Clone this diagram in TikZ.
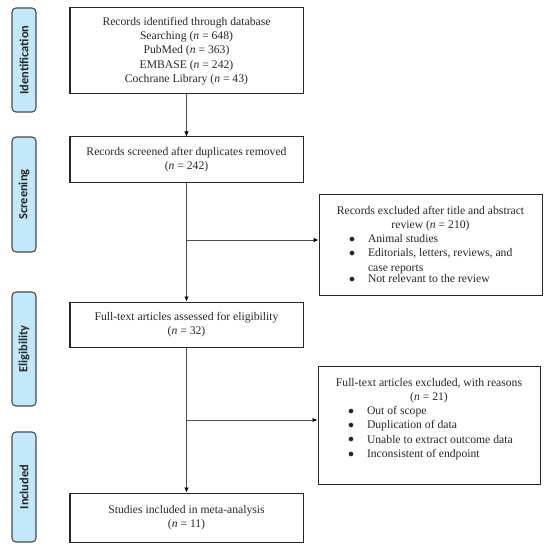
\documentclass[tikz,border=0pt]{standalone}
\usepackage{fontspec}
\setmainfont{Liberation Serif}
\newfontfamily\sidefont{Carlito}
\usetikzlibrary{arrows.meta}
\definecolor{sidefill}{HTML}{C2E8F9}
\definecolor{sideline}{HTML}{4A4A4A}
\definecolor{conn}{HTML}{505050}
\newcommand\bitem[2][0pt]{\par\noindent\hspace*{#1}\makebox[19bp][l]{\raisebox{0.3pt}{\large$\bullet$}}\parbox[t]{150bp}{\raggedright #2}}
\begin{document}
\begin{tikzpicture}[x=1bp,y=-1bp,
  side/.style={draw=sideline,line width=1.1bp,fill=sidefill,rounded corners=4bp,
    minimum height=24bp,inner sep=0pt,rotate=90,
    font=\sidefont\bfseries\fontsize{12.5}{14}\selectfont,text=black!85},
  mainbox/.style={draw=black!85,line width=1bp,inner sep=0pt,
    font=\fontsize{11.7}{14.3}\selectfont,text=black!85},
  conn/.style={draw=conn,line width=0.8bp,-{Latex[length=5bp,width=4.5bp,black]}},
  conl/.style={draw=conn,line width=0.8bp}]
\useasboundingbox (0,0) rectangle (550,549);
% side labels
\node[side,minimum width=104bp] (ident) at (24,60) {Identification};
\node[side,minimum width=115bp] (screen) at (24,194.5) {Screening};
\node[side,minimum width=114bp] (elig) at (24,349) {Eligibility};
\node[side,minimum width=110bp] (incl) at (24,487) {Included};
% main boxes
\node[mainbox] (b1) at (186.5,51) {\parbox[c][86bp][c]{233bp}{\centering
  Records identified through database\\
  Searching (\textit{n} = 648)\\
  PubMed (\textit{n} = 363)\\
  EMBASE (\textit{n} = 242)\\
  Cochrane Library (\textit{n} = 43)\par}};
\node[mainbox] (b2) at (186.5,160) {\parbox[c][46bp][c]{233bp}{\centering
  Records screened after duplicates removed\\
  (\textit{n} = 242)\par}};
\node[mainbox] (b3) at (186.5,324.5) {\parbox[c][45bp][c]{233bp}{\centering
  Full-text articles assessed for eligibility\\
  (\textit{n} = 32)\par}};
\node[mainbox] (b4) at (186.5,517.5) {\parbox[c][49bp][c]{233bp}{\centering
  Studies included in meta-analysis\\
  (\textit{n} = 11)\par}};
% right boxes
\node[mainbox] (r1) at (430.5,245) {\parbox[c][100bp][t]{223bp}{\vspace{11bp}%
  {\centering Records excluded after title and abstract\\
  review (\textit{n} = 210)\par}
  \bitem[30bp]{Animal studies}
  \bitem[30bp]{Editorials, letters, reviews, and case reports}
  \bitem[30bp]{Not relevant to the review}\par}};
\node[mainbox] (r2) at (429,425) {\parbox[c][118bp][t]{222bp}{\vspace{12bp}%
  {\centering Full-text articles excluded, with reasons\\
  (\textit{n} = 21)\par}
  \bitem[30bp]{Out of scope}
  \bitem[30bp]{Duplication of data}
  \bitem[30bp]{Unable to extract outcome data}
  \bitem[30bp]{Inconsistent of endpoint}\par}};
% connectors
\coordinate (j1) at (186.5,240);
\coordinate (j2) at (186.5,420);
\draw[conn] (b1) -- (b2);
\draw[conn] (b2) -- (b3);
\draw[conn] (b3) -- (b4);
\draw[conn] (j1) -- (j1 -| r1.west);
\draw[conn] (j2) -- (j2 -| r2.west);
\end{tikzpicture}
\end{document}
